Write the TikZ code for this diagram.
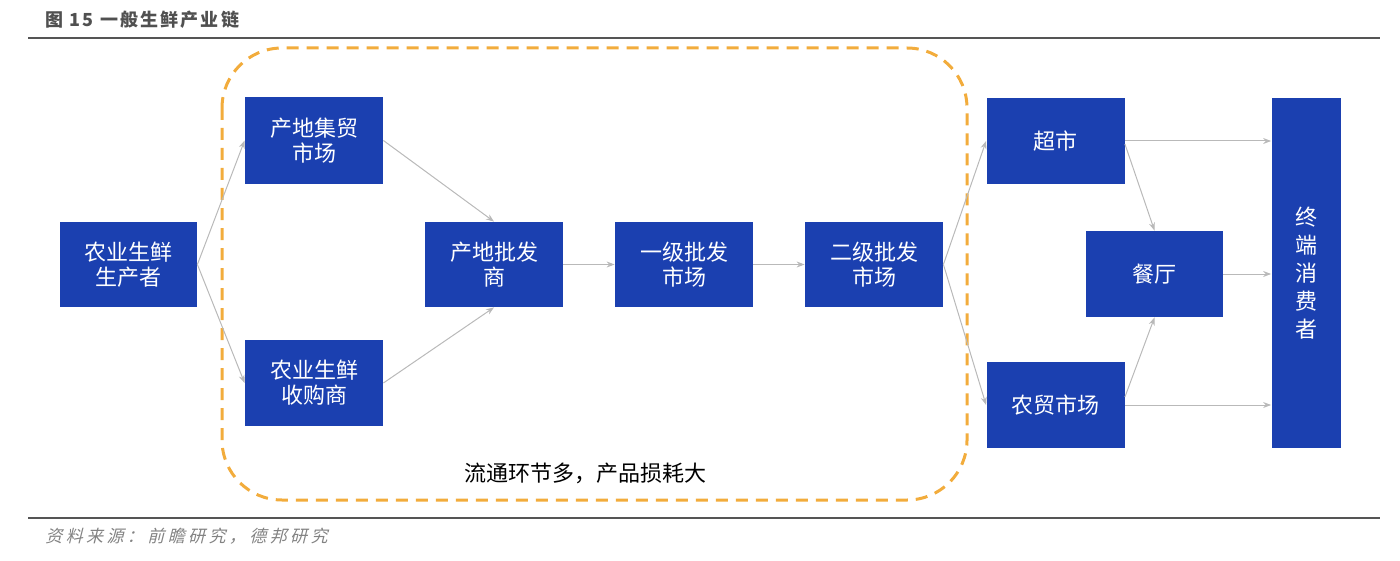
\documentclass[tikz,border=0pt]{standalone}
\usepackage{fontspec}
\newfontfamily\cjk{Noto Sans CJK SC}
\newfontfamily\cjktitle[LetterSpace=12]{Noto Sans CJK SC}
\newfontfamily\cjkslant[FakeSlant=0.25,LetterSpace=20]{Noto Sans CJK SC}
\usetikzlibrary{arrows.meta}
\definecolor{boxblue}{RGB}{27,64,176}
\definecolor{dashorange}{RGB}{242,172,60}
\definecolor{arrowgray}{RGB}{185,185,185}
\definecolor{rulegray}{RGB}{85,85,85}
\definecolor{titlegray}{RGB}{80,80,80}
\definecolor{notegray}{RGB}{130,130,130}
\begin{document}
\begin{tikzpicture}[x=0.5pt,y=-0.5pt,
  blk/.style={fill=boxblue,draw=none,text=white,font=\cjk\fontsize{11}{12.5}\selectfont,align=center,inner sep=0pt},
  conn/.style={draw=arrowgray,line width=0.5pt,-{Stealth[length=4pt,width=3pt]}}]
\useasboundingbox (0,0) rectangle (1400,561);
% header and footer
\node[anchor=west,text=titlegray,font=\cjktitle\bfseries\fontsize{9}{10}\selectfont,inner sep=0pt] (title) at (45,20) {图 15 一般生鲜产业链};
\draw[rulegray,line width=1.1pt] (28,38) -- (1380,38);
\draw[rulegray,line width=1.1pt] (28,518) -- (1380,518);
\node[anchor=west,text=notegray,font=\cjkslant\fontsize{8.5}{9}\selectfont,inner sep=0pt] (src) at (45,536) {资料来源：前瞻研究，德邦研究};
% dashed region
\draw[dashorange,line width=1.5pt,dash pattern=on 6pt off 4pt,rounded corners=30pt] (222,48) rectangle (967,500);
\node[font=\cjk\fontsize{11}{12.5}\selectfont,inner sep=0pt] (note) at (585,473) {流通环节多，产品损耗大};
% boxes
\node[blk,minimum width=68.5pt,minimum height=42.5pt] (prod) at (128.5,264.5) {农业生鲜\\生产者};
\node[blk,minimum width=69pt,minimum height=43.5pt] (jimao) at (314,140.5) {产地集贸\\市场};
\node[blk,minimum width=69pt,minimum height=43pt] (shougou) at (314,383) {农业生鲜\\收购商};
\node[blk,minimum width=69pt,minimum height=42.5pt] (pifa) at (494,264.5) {产地批发\\商};
\node[blk,minimum width=69pt,minimum height=42.5pt] (yiji) at (684,264.5) {一级批发\\市场};
\node[blk,minimum width=69pt,minimum height=42.5pt] (erji) at (874,264.5) {二级批发\\市场};
\node[blk,minimum width=69pt,minimum height=43pt] (chaoshi) at (1055.5,141) {超市};
\node[blk,minimum width=69pt,minimum height=43pt] (nongmao) at (1055.5,405) {农贸市场};
\node[blk,minimum width=68.5pt,minimum height=43pt] (canting) at (1154.5,274) {餐厅};
\node[blk,minimum width=34.5pt,minimum height=175pt,font=\cjk\fontsize{11}{14}\selectfont] (zhongduan) at (1306,273) {终\\端\\消\\费\\者};
% connectors
\draw[conn] (prod.east) -- (jimao.west);
\draw[conn] (prod.east) -- (shougou.west);
\draw[conn] (jimao.east) -- (pifa.north);
\draw[conn] (shougou.east) -- (pifa.south);
\draw[conn] (pifa) -- (yiji);
\draw[conn] (yiji) -- (erji);
\draw[conn] (erji.east) -- (chaoshi.west);
\draw[conn] (erji.east) -- (nongmao.west);
\draw[conn] (chaoshi.east) -- (zhongduan.west |- chaoshi.east);
\draw[conn] ([yshift=-1.5pt]chaoshi.east) -- (canting.north);
\draw[conn] ([yshift=4pt]nongmao.east) -- (canting.south);
\draw[conn] (canting.east) -- (zhongduan.west |- canting.east);
\draw[conn] (nongmao.east) -- (zhongduan.west |- nongmao.east);
\end{tikzpicture}
\end{document}
